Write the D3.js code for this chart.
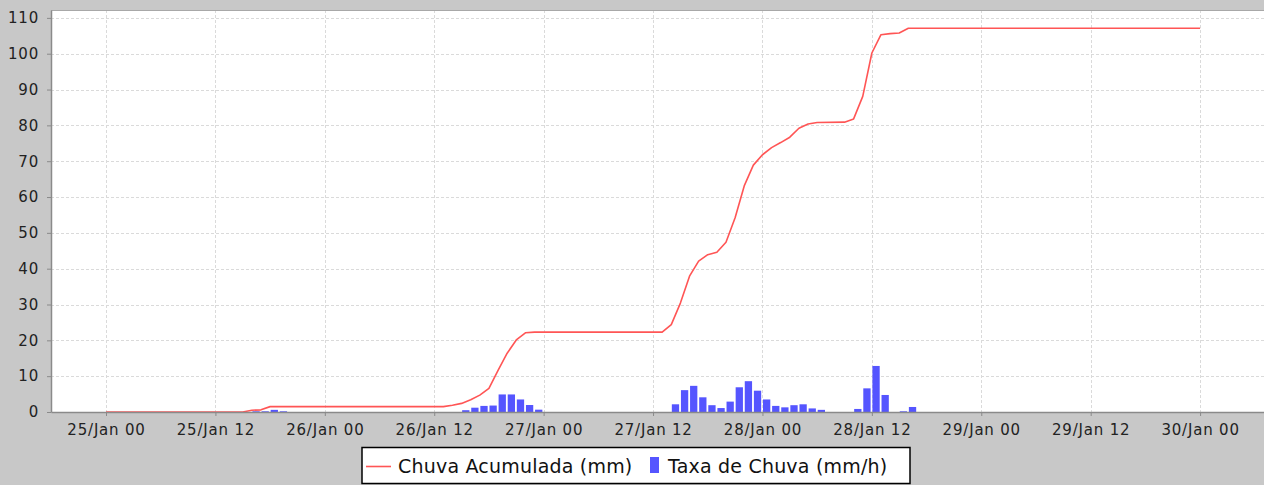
<!DOCTYPE html>
<html><head><meta charset="utf-8">
<script src="https://cdn.jsdelivr.net/npm/d3@7"></script>
<style>
html,body{margin:0;padding:0;background:#c8c8c8;}
svg{display:block;}
text{font-family:"DejaVu Sans",sans-serif;}
</style></head>
<body><svg id="c" width="1264" height="485"></svg>
<script>
// ---- data ----
const xTickLabels = ["25/Jan 00","25/Jan 12","26/Jan 00","26/Jan 12","27/Jan 00","27/Jan 12","28/Jan 00","28/Jan 12","29/Jan 00","29/Jan 12","30/Jan 00"];
const yTickValues = [0,10,20,30,40,50,60,70,80,90,100,110];

const rateTimes = ["25/Jan 16","25/Jan 17","25/Jan 18","25/Jan 19",
  "26/Jan 15","26/Jan 16","26/Jan 17","26/Jan 18","26/Jan 19","26/Jan 20","26/Jan 21","26/Jan 22","26/Jan 23",
  "27/Jan 14","27/Jan 15","27/Jan 16","27/Jan 17","27/Jan 18","27/Jan 19","27/Jan 20","27/Jan 21","27/Jan 22","27/Jan 23",
  "28/Jan 00","28/Jan 01","28/Jan 02","28/Jan 03","28/Jan 04","28/Jan 05","28/Jan 06",
  "28/Jan 10","28/Jan 11","28/Jan 12","28/Jan 13","28/Jan 15","28/Jan 16"];
const rateValues = [0.2,0.2,0.6,0.2,
  0.5,1.2,1.7,1.8,4.9,4.9,3.5,1.95,0.65,
  2.15,6.1,7.3,4.1,1.9,1.1,2.9,6.9,8.6,5.95,
  3.5,1.7,1.3,1.9,2.15,1.0,0.6,
  0.85,6.6,12.85,4.75,0.2,1.4];

const cumTimes = ["25/Jan 00","25/Jan 15","25/Jan 16","25/Jan 17","25/Jan 18",
  "26/Jan 13","26/Jan 14","26/Jan 15","26/Jan 16","26/Jan 17","26/Jan 18","26/Jan 19","26/Jan 20","26/Jan 21","26/Jan 22","26/Jan 23",
  "27/Jan 13","27/Jan 14","27/Jan 15","27/Jan 16","27/Jan 17","27/Jan 18","27/Jan 19","27/Jan 20","27/Jan 21","27/Jan 22","27/Jan 23",
  "28/Jan 00","28/Jan 01","28/Jan 02","28/Jan 03","28/Jan 04","28/Jan 05","28/Jan 06",
  "28/Jan 09","28/Jan 10","28/Jan 11","28/Jan 12","28/Jan 13","28/Jan 14","28/Jan 15","28/Jan 16","30/Jan 00"];
const cumValues = [0,0,0.5,0.6,1.5,
  1.5,1.9,2.4,3.4,4.7,6.6,11.6,16.4,20.1,22.1,22.3,
  22.3,24.4,30.4,37.9,42.1,43.9,44.6,47.4,54.2,63.1,68.9,
  71.8,73.8,75.2,76.7,79.2,80.4,80.8,
  80.9,81.8,88.1,100.2,105.3,105.6,105.8,107.1,107.1];

const seriesNames = ["Chuva Acumulada (mm)","Taxa de Chuva (mm/h)"];
const colors = ["#ff5555","#5555ff"];

// ---- chart ----
const parse = d3.timeParse("%d/%b %H");
const H = 3600e3;
const base = parse("25/Jan 00");
const plot = {left:51, right:1264, top:10, bottom:412};

const x = d3.scaleTime()
  .domain([new Date(+base - 6.033*H), new Date(+base + 127.01*H)])
  .range([plot.left, plot.right]);
const y = d3.scaleLinear().domain([0,112.2]).range([plot.bottom, plot.top]);

const svg = d3.select("#c");
svg.append("rect").attr("width",1264).attr("height",485).attr("fill","#c8c8c8");
svg.append("rect").attr("x",plot.left).attr("y",plot.top)
  .attr("width",plot.right-plot.left).attr("height",plot.bottom-plot.top).attr("fill","#fff");

const xTicks = xTickLabels.map(parse);

// grid
const grid = svg.append("g").attr("stroke","#dadada").attr("stroke-width",1).attr("stroke-dasharray","3,2");
grid.selectAll(".gx").data(xTicks).join("line")
  .attr("x1",d=>Math.round(x(d))+0.5).attr("x2",d=>Math.round(x(d))+0.5)
  .attr("y1",plot.top).attr("y2",plot.bottom);
grid.selectAll(".gy").data(yTickValues.filter(v=>v>0)).join("line")
  .attr("y1",d=>Math.round(y(d))+0.5).attr("y2",d=>Math.round(y(d))+0.5)
  .attr("x1",plot.left).attr("x2",plot.right);

// top outline
svg.append("line").attr("x1",plot.left).attr("x2",plot.right).attr("y1",plot.top+0.5).attr("y2",plot.top+0.5)
  .attr("stroke","#a8a8a8").attr("stroke-width",1);

// bars
const rate = rateTimes.map((t,i)=>({t:parse(t), v:rateValues[i]}));
svg.append("g").selectAll("rect").data(rate).join("rect")
  .attr("x",d=>{const x0=x(d.t), x1=x(new Date(+d.t+H)); return x0+(x1-x0)*0.06;})
  .attr("width",d=>{const x0=x(d.t), x1=x(new Date(+d.t+H)); return (x1-x0)*0.8;})
  .attr("y",d=>y(d.v)).attr("height",d=>y(0)-y(d.v))
  .attr("fill",colors[1]);

// line
const cum = cumTimes.map((t,i)=>({t:parse(t), v:cumValues[i]}));
svg.append("path").datum(cum)
  .attr("d", d3.line().x(d=>x(d.t)).y(d=>y(d.v)))
  .attr("fill","none").attr("stroke",colors[0]).attr("stroke-width",1.6).attr("stroke-linejoin","round");

// axes
const xAxis = d3.axisBottom(x).tickValues(xTicks).tickFormat(d3.timeFormat("%d/%b %H"))
  .tickSizeInner(4).tickSizeOuter(0).tickPadding(8);
const gx = svg.append("g").attr("transform",`translate(0,${plot.bottom})`).call(xAxis);
gx.select(".domain").attr("stroke","#8a8a8a").attr("stroke-width",1.5);
gx.selectAll(".tick line").attr("stroke","#8a8a8a");
gx.selectAll(".tick text").attr("font-size",15).attr("letter-spacing","0.8px").attr("fill","#222")
  .attr("font-family","DejaVu Sans");

const yAxis = d3.axisLeft(y).tickValues(yTickValues).tickSizeInner(4).tickSizeOuter(0).tickPadding(8);
const gy = svg.append("g").attr("transform",`translate(${plot.left},0)`).call(yAxis);
gy.select(".domain").attr("stroke","#8a8a8a").attr("stroke-width",1.5);
gy.selectAll(".tick line").attr("stroke","#8a8a8a");
gy.selectAll(".tick text").attr("font-size",15).attr("letter-spacing","0.8px").attr("fill","#222")
  .attr("font-family","DejaVu Sans");

// legend
const lg = svg.append("g");
lg.append("rect").attr("x",362).attr("y",447.5).attr("width",548).attr("height",36)
  .attr("fill","#fff").attr("stroke","#000").attr("stroke-width",1.5);
lg.append("line").attr("x1",366).attr("x2",391).attr("y1",466.5).attr("y2",466.5)
  .attr("stroke",colors[0]).attr("stroke-width",1.6);
lg.append("text").attr("x",398).attr("y",473).attr("font-size",19).attr("letter-spacing","0.2px").attr("fill","#111").text(seriesNames[0]);
lg.append("rect").attr("x",650).attr("y",457).attr("width",9).attr("height",16).attr("fill",colors[1]);
lg.append("text").attr("x",668).attr("y",473).attr("font-size",19).attr("letter-spacing","0.2px").attr("fill","#111").text(seriesNames[1]);
</script>
</body></html>
